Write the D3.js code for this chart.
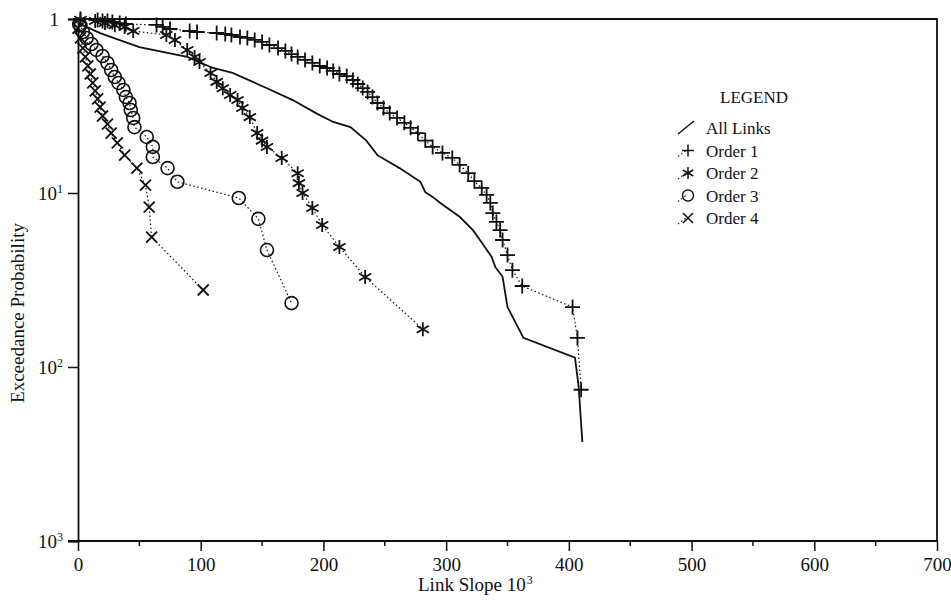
<!DOCTYPE html>
<html lang="en">
<head>
<meta charset="utf-8">
<title>Exceedance Probability of Link Slope</title>
<script src="https://d3js.org/d3.v7.min.js"></script>
<style>
  body { margin: 0; background: #fff; }
  text { font-family: "Liberation Serif", "Times New Roman", serif; fill: #111; }
</style>
</head>
<body>
<div id="chart"></div>
<script>
// values: [link slope (x10^3), exceedance probability]
var allLinks = [
  [0, 0.95], [18, 0.83], [50, 0.69], [89, 0.605], [110, 0.523], [126, 0.49], [154, 0.40],
  [175, 0.342], [195, 0.285], [208, 0.256], [222, 0.239], [235, 0.20], [244, 0.165],
  [262, 0.139], [279, 0.116], [283, 0.101], [289, 0.095], [295, 0.088], [311, 0.073],
  [322, 0.061], [329, 0.052], [337, 0.043], [340, 0.0376], [346, 0.033], [350, 0.0221],
  [363, 0.0147], [405, 0.0113], [408, 0.0077], [411, 0.0037]
];
var order1 = [
  [2, 1.0], [16, 0.987], [20, 0.974], [24, 0.974], [28, 0.961], [34, 0.948], [39, 0.936],
  [64, 0.924], [69, 0.90], [75, 0.876], [91, 0.853], [97, 0.842], [113, 0.831], [120, 0.82],
  [125, 0.809], [132, 0.788], [138, 0.778], [144, 0.758], [150, 0.738], [156, 0.709],
  [163, 0.681], [169, 0.655], [174, 0.629], [179, 0.605], [185, 0.582], [191, 0.559],
  [197, 0.537], [203, 0.523], [208, 0.503], [213, 0.483], [219, 0.47], [224, 0.446],
  [228, 0.423], [232, 0.401], [236, 0.381], [240, 0.356], [244, 0.329], [249, 0.308],
  [254, 0.288], [260, 0.27], [266, 0.253], [271, 0.237], [277, 0.221], [283, 0.20],
  [289, 0.184], [297, 0.17], [305, 0.159], [311, 0.145], [318, 0.13], [323, 0.117],
  [329, 0.107], [333, 0.0975], [336, 0.0877], [338, 0.0767], [341, 0.0682], [344, 0.0612],
  [346, 0.0537], [350, 0.044], [354, 0.036], [362, 0.0292], [403, 0.0221], [407, 0.0147],
  [410, 0.0074]
];
var order2 = [
  [2, 0.99], [14, 0.974], [22, 0.948], [30, 0.92], [38, 0.90], [45, 0.853], [72, 0.81],
  [79, 0.757], [89, 0.664], [95, 0.605], [99, 0.566], [108, 0.49], [113, 0.435],
  [118, 0.40], [124, 0.366], [130, 0.342], [134, 0.308], [140, 0.273], [146, 0.221],
  [150, 0.20], [154, 0.184], [166, 0.159], [179, 0.13], [180, 0.114], [183, 0.10],
  [191, 0.082], [199, 0.0655], [213, 0.049], [234, 0.0329], [281, 0.0165]
];
var order3 = [
  [1, 0.93], [2, 0.92], [4, 0.842], [7, 0.778], [11, 0.718], [15, 0.664], [20, 0.613],
  [24, 0.559], [27, 0.509], [30, 0.464], [33, 0.429], [37, 0.391], [39, 0.356],
  [42, 0.329], [43, 0.30], [45, 0.27], [46, 0.239], [56, 0.21], [61, 0.184], [61, 0.161],
  [73, 0.139], [81, 0.116], [131, 0.0936], [147, 0.071], [154, 0.047], [174, 0.0233]
];
var order4 = [
  [0, 0.887], [2, 0.778], [4, 0.681], [6, 0.605], [8, 0.537], [10, 0.483], [12, 0.429],
  [14, 0.386], [16, 0.347], [18, 0.312], [20, 0.277], [24, 0.249], [27, 0.221],
  [32, 0.194], [38, 0.165], [48, 0.139], [55, 0.111], [58, 0.083], [60, 0.0558],
  [102, 0.0277]
];
var xTicks = [0, 100, 200, 300, 400, 500, 600, 700];
var xMinorTicks = [50, 150, 250, 350, 450, 550, 650];
var yTicks = [1, 0.1, 0.01, 0.001];
var yTickExponents = ["", "1", "2", "3"];
var legendLabels = ["All Links", "Order 1", "Order 2", "Order 3", "Order 4"];

var width = 951, height = 600;
var margin = {top: 19, right: 14, bottom: 59, left: 78};

var svg = d3.select("#chart").append("svg")
  .attr("width", width)
  .attr("height", height);

var x = d3.scaleLinear().domain([0, 700]).range([margin.left, width - margin.right]);
var y = d3.scaleLog().domain([0.001, 1]).range([height - margin.bottom, margin.top]);

// frame (top and right)
svg.append("path")
  .attr("d", "M" + x(0) + "," + y(1) + "H" + x(700) + "V" + y(0.001))
  .attr("fill", "none").attr("stroke", "#111").attr("stroke-width", 1.8);

// x axis
var xAxis = svg.append("g")
  .attr("transform", "translate(0," + y(0.001) + ")")
  .call(d3.axisBottom(x).tickValues(xTicks).tickSize(10).tickPadding(7).tickFormat(d3.format("d")));
xAxis.append("g").selectAll("line")
  .data(xMinorTicks)
  .enter().append("line")
    .attr("x1", function(d) { return x(d); })
    .attr("x2", function(d) { return x(d); })
    .attr("y1", 0).attr("y2", 5)
    .attr("stroke", "#111").attr("stroke-width", 1.5);

// y axis
var yAxis = svg.append("g")
  .attr("transform", "translate(" + x(0) + ",0)")
  .call(d3.axisLeft(y).tickValues(yTicks).tickSize(10).tickPadding(9).tickFormat(function() { return ""; }));

[xAxis, yAxis].forEach(function(a) {
  a.select(".domain").attr("stroke", "#111").attr("stroke-width", 1.8);
  a.selectAll(".tick line").attr("stroke", "#111").attr("stroke-width", 1.5);
  a.selectAll("text").style("font-family", '"Liberation Serif", serif').style("font-size", "19px").attr("fill", "#111");
});
xAxis.select(".domain").attr("d", "M" + (x(0) - 10) + ",0H" + x(700));

yAxis.selectAll(".tick text").each(function(d) {
  var t = d3.select(this);
  var e = yTickExponents[yTicks.indexOf(d)];
  if (e === "") {
    t.text("1");
  } else {
    t.text("10");
    t.append("tspan").attr("dy", "-0.55em").style("font-size", "12px").text(e);
    t.attr("dx", "4px");
  }
});

// axis titles
svg.append("text")
  .attr("transform", "translate(24,313) rotate(-90)")
  .attr("text-anchor", "middle")
  .style("font-size", "19px")
  .text("Exceedance Probability");

var xt = svg.append("text")
  .attr("x", 418).attr("y", 591)
  .style("font-size", "19px")
  .text("Link Slope  10");
xt.append("tspan").attr("dy", "-0.6em").attr("dx", "1px").style("font-size", "12px").text("3");

// marker shapes
function markerPath(kind, s) {
  if (kind === "plus") return "M" + (-s) + ",0H" + s + "M0," + (-s) + "V" + s;
  if (kind === "star") {
    var a = s * 0.87, b = s * 0.5;
    return "M0," + (-s) + "V" + s + "M" + (-a) + "," + (-b) + "L" + a + "," + b + "M" + (-a) + "," + b + "L" + a + "," + (-b);
  }
  if (kind === "cross") return "M" + (-s) + "," + (-s) + "L" + s + "," + s + "M" + (-s) + "," + s + "L" + s + "," + (-s);
  return "";
}

var line = d3.line()
  .x(function(d) { return x(d[0]); })
  .y(function(d) { return y(d[1]); });

// All links: solid line
svg.append("path")
  .datum(allLinks)
  .attr("d", line)
  .attr("fill", "none").attr("stroke", "#111").attr("stroke-width", 1.8);

var series = [
  {data: order1, kind: "plus", size: 7.5},
  {data: order2, kind: "star", size: 7},
  {data: order3, kind: "circle", size: 6.5},
  {data: order4, kind: "cross", size: 5.5}
];

series.forEach(function(s) {
  svg.append("path")
    .datum(s.data)
    .attr("d", line)
    .attr("fill", "none").attr("stroke", "#111")
    .attr("stroke-width", 1.2).attr("stroke-dasharray", "1.5,2.5");

  var g = svg.append("g");
  if (s.kind === "circle") {
    g.selectAll("circle").data(s.data).enter().append("circle")
      .attr("cx", function(d) { return x(d[0]); })
      .attr("cy", function(d) { return y(d[1]); })
      .attr("r", s.size)
      .attr("fill", "none").attr("stroke", "#111").attr("stroke-width", 1.6);
  } else {
    g.selectAll("path").data(s.data).enter().append("path")
      .attr("transform", function(d) { return "translate(" + x(d[0]) + "," + y(d[1]) + ")"; })
      .attr("d", markerPath(s.kind, s.size))
      .attr("fill", "none").attr("stroke", "#111").attr("stroke-width", 1.8);
  }
});

// legend
var legend = svg.append("g").attr("transform", "translate(680,0)");
legend.append("text")
  .attr("x", 40).attr("y", 103)
  .style("font-size", "17px")
  .text("LEGEND");

legendLabels.forEach(function(label, i) {
  var cy = 128 + i * 22.5;
  var item = legend.append("g").attr("transform", "translate(0," + cy + ")");
  if (i === 0) {
    item.append("line")
      .attr("x1", -2).attr("y1", 6).attr("x2", 14).attr("y2", -7)
      .attr("stroke", "#111").attr("stroke-width", 1.4);
  } else {
    var s = series[i - 1];
    item.append("line")
      .attr("x1", -2).attr("y1", 6).attr("x2", 6).attr("y2", 0)
      .attr("stroke", "#111").attr("stroke-width", 1.1).attr("stroke-dasharray", "1.5,2.5");
    if (s.kind === "circle") {
      item.append("circle").attr("cx", 8).attr("cy", 0).attr("r", 5.5)
        .attr("fill", "none").attr("stroke", "#111").attr("stroke-width", 1.4);
    } else {
      item.append("path")
        .attr("transform", "translate(8,0)")
        .attr("d", markerPath(s.kind, s.kind === "cross" ? 5 : 6))
        .attr("fill", "none").attr("stroke", "#111").attr("stroke-width", 1.5);
    }
  }
  item.append("text")
    .attr("x", 26).attr("y", 6)
    .style("font-size", "17px")
    .text(label);
});
</script>
</body>
</html>
